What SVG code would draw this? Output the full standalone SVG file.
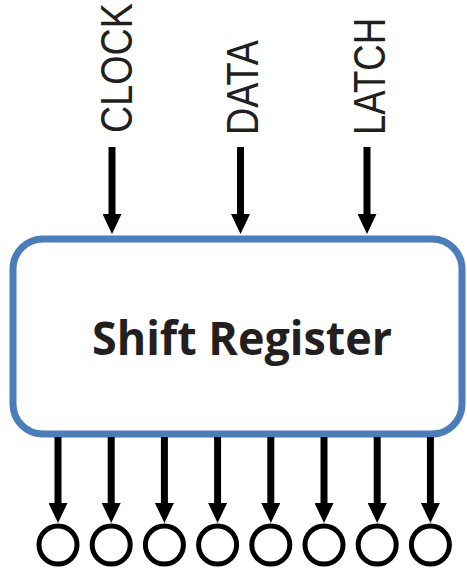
<svg xmlns="http://www.w3.org/2000/svg" width="467" height="569" viewBox="0 0 467 569">
  <style>
    .lbl { font-family: "Liberation Sans", Arial, sans-serif; font-size: 44px; fill: #231F20; }
    .title { font-family: "Open Sans", "Liberation Sans", sans-serif; font-size: 46px; font-weight: bold; fill: #231F20; }
    .wire { stroke: #000; stroke-width: 7; fill: none; marker-end: url(#ah); }
    .pin { fill: none; stroke: #000; stroke-width: 5; }
    .box { fill: #fff; stroke: #4A7DBA; stroke-width: 7; }
  </style>
  <defs>
    <marker id="ah" viewBox="0 0 20 19" refX="1" refY="9.5" markerWidth="20" markerHeight="19" markerUnits="userSpaceOnUse" orient="auto">
      <path d="M0,0 L20,9.5 L0,19 z" fill="#000"/>
    </marker>
  </defs>
  <rect width="467" height="569" fill="#fff"/>

  <g id="shift-register">
    <rect class="box" x="13" y="239" width="449" height="195" rx="30" ry="30"/>
    <text class="title" x="242" y="355" text-anchor="middle" textLength="300" lengthAdjust="spacingAndGlyphs">Shift Register</text>
  </g>

  <g id="clock">
    <text class="lbl" transform="translate(132,133) rotate(-90)" textLength="130" lengthAdjust="spacingAndGlyphs">CLOCK</text>
  </g>
  <g id="data">
    <text class="lbl" transform="translate(258,135) rotate(-90)" textLength="95" lengthAdjust="spacingAndGlyphs">DATA</text>
  </g>
  <g id="latch">
    <text class="lbl" transform="translate(385,135) rotate(-90)" textLength="117" lengthAdjust="spacingAndGlyphs">LATCH</text>
  </g>

  <g id="outputs">
    <circle id="q0" class="pin" cx="58" cy="545" r="19"/>
    <circle id="q1" class="pin" cx="111.2" cy="545" r="19"/>
    <circle id="q2" class="pin" cx="164.4" cy="545" r="19"/>
    <circle id="q3" class="pin" cx="217.6" cy="545" r="19"/>
    <circle id="q4" class="pin" cx="270.8" cy="545" r="19"/>
    <circle id="q5" class="pin" cx="324" cy="545" r="19"/>
    <circle id="q6" class="pin" cx="377.2" cy="545" r="19"/>
    <circle id="q7" class="pin" cx="430.4" cy="545" r="19"/>
  </g>

  <g id="connectors">
    <line class="wire" x1="112" y1="147" x2="112" y2="215"/>
    <line class="wire" x1="240.5" y1="147" x2="240.5" y2="215"/>
    <line class="wire" x1="367" y1="147" x2="367" y2="215"/>

    <line class="wire" x1="58" y1="437" x2="58" y2="504"/>
    <line class="wire" x1="111.2" y1="437" x2="111.2" y2="504"/>
    <line class="wire" x1="164.4" y1="437" x2="164.4" y2="504"/>
    <line class="wire" x1="217.6" y1="437" x2="217.6" y2="504"/>
    <line class="wire" x1="270.8" y1="437" x2="270.8" y2="504"/>
    <line class="wire" x1="324" y1="437" x2="324" y2="504"/>
    <line class="wire" x1="377.2" y1="437" x2="377.2" y2="504"/>
    <line class="wire" x1="430.4" y1="437" x2="430.4" y2="504"/>
  </g>
</svg>
